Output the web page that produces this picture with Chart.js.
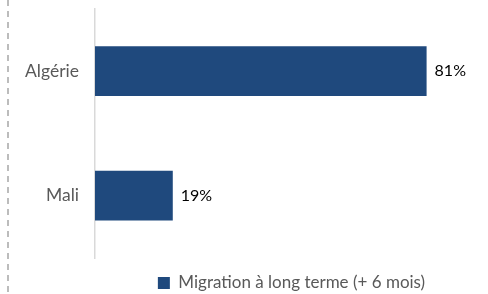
<!DOCTYPE html>
<html><head><meta charset="utf-8">
<script src="https://cdn.jsdelivr.net/npm/chart.js@4/dist/chart.umd.min.js"></script>
<style>html,body{margin:0;padding:0;background:#fff}#wrap{width:488px;height:294px;position:relative}</style>
</head><body><div id="wrap"><canvas id="c" width="488" height="294"></canvas></div>
<script>
const categories = ["Algérie", "Mali"];
const values = [81, 19];
const seriesName = "Migration à long terme (+ 6 mois)";
const valueSuffix = "%";

const FONT = "Lato, 'Open Sans', sans-serif";

const frameLine = {
  id: 'frameLine',
  beforeDraw(chart) {
    const ctx = chart.ctx;
    ctx.save();
    ctx.strokeStyle = '#a6a6a6';
    ctx.lineWidth = 1.5;
    ctx.setLineDash([6, 5]);
    ctx.beginPath();
    ctx.moveTo(8, 0);
    ctx.lineTo(8, chart.height);
    ctx.stroke();
    ctx.restore();
  }
};

const valueLabels = {
  id: 'valueLabels',
  afterDatasetsDraw(chart) {
    const ctx = chart.ctx;
    ctx.save();
    ctx.font = "16px " + FONT;
    ctx.fillStyle = '#000';
    ctx.textBaseline = 'middle';
    ctx.textAlign = 'left';
    chart.getDatasetMeta(0).data.forEach((bar, i) => {
      ctx.fillText(values[i] + valueSuffix, bar.x + 8, bar.y);
    });
    ctx.restore();
  }
};

new Chart(document.getElementById('c'), {
  type: 'bar',
  data: {
    labels: categories,
    datasets: [{
      label: seriesName,
      data: values,
      backgroundColor: '#1f497d',
      borderWidth: 0,
      barPercentage: 0.4,
      categoryPercentage: 1.0
    }]
  },
  options: {
    indexAxis: 'y',
    responsive: false,
    animation: false,
    layout: { padding: { top: 8, left: 0, right: 0, bottom: -7.5 } },
    scales: {
      x: { display: false, min: 0, max: 96 },
      y: {
        grid: { display: true, drawOnChartArea: false, drawTicks: true, tickLength: 16, color: 'rgba(0,0,0,0)' },
        border: { display: true, color: '#d9d9d9', width: 1.5 },
        ticks: { color: '#595959', font: { size: 17.5, family: FONT, lineHeight: 1 }, padding: 0 },
        afterFit(scale) { scale.width = 95; }
      }
    },
    plugins: {
      legend: {
        position: 'bottom',
        fullSize: false,
        labels: {
          color: '#595959',
          font: { size: 17, family: FONT },
          boxWidth: 12, boxHeight: 12,
          padding: 16.5
        }
      },
      tooltip: { enabled: false }
    }
  },
  plugins: [frameLine, valueLabels]
});
</script></body></html>
